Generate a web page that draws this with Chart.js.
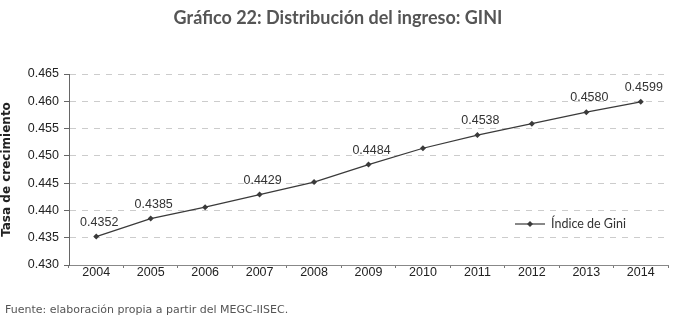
<!DOCTYPE html>
<html>
<head>
<meta charset="utf-8">
<script src="https://cdn.jsdelivr.net/npm/chart.js@4/dist/chart.umd.min.js"></script>
<style>
  html, body { margin: 0; padding: 0; background: #fff; }
  #wrap { position: relative; width: 673px; height: 321px; }
</style>
</head>
<body>
<div id="wrap"><canvas id="giniChart" width="673" height="321"></canvas></div>
<script>
    const years = ['2004', '2005', '2006', '2007', '2008', '2009', '2010', '2011', '2012', '2013', '2014'];
    const giniValues = [0.4352, 0.4385, 0.4406, 0.4429, 0.4452, 0.4484, 0.4514, 0.4538, 0.4559, 0.4580, 0.4599];
    // which points carry a value label in the original
    const labelledYears = ['2004', '2005', '2007', '2009', '2011', '2013', '2014'];
    const yTicks = [0.430, 0.435, 0.440, 0.445, 0.450, 0.455, 0.460, 0.465];

    const lineColor = '#3a3a3a';
    const gothic = '"Lato", "Noto Sans", sans-serif';
    const arial = '"Liberation Sans", Arial, sans-serif';

    // Title, value labels, inside legend and source note
    const decorPlugin = {
        id: 'decor',
        afterDraw(chart) {
            const ctx = chart.ctx;
            const area = chart.chartArea;
            const meta = chart.getDatasetMeta(0);
            ctx.save();

            ctx.fillStyle = '#555';
            ctx.font = 'bold 18px ' + gothic;
            ctx.textAlign = 'center';
            ctx.textBaseline = 'middle';
            ctx.fillText('Gráfico 22: Distribución del ingreso: GINI', 338, 18);

            ctx.fillStyle = '#333';
            ctx.font = '12.5px ' + arial;
            ctx.textBaseline = 'bottom';
            meta.data.forEach((pt, i) => {
                if (!labelledYears.includes(years[i])) return;
                ctx.fillText(giniValues[i].toFixed(4), pt.x + 3, pt.y - 8);
            });

            // legend inside plot area
            const ly = 224;
            const lx = area.right - 153;
            ctx.strokeStyle = lineColor;
            ctx.lineWidth = 1.2;
            ctx.beginPath();
            ctx.moveTo(lx, ly);
            ctx.lineTo(lx + 30, ly);
            ctx.stroke();
            ctx.fillStyle = lineColor;
            ctx.beginPath();
            ctx.moveTo(lx + 15, ly - 3);
            ctx.lineTo(lx + 18, ly);
            ctx.lineTo(lx + 15, ly + 3);
            ctx.lineTo(lx + 12, ly);
            ctx.closePath();
            ctx.fill();
            ctx.fillStyle = '#333';
            ctx.font = '12.5px ' + gothic;
            ctx.textAlign = 'left';
            ctx.textBaseline = 'middle';
            ctx.fillText('Índice de Gini', lx + 36, ly);

            ctx.fillStyle = '#555';
            ctx.font = '11px "DejaVu Sans", sans-serif';
            ctx.fillText('Fuente: elaboración propia a partir del MEGC-IISEC.', 5, 310);
            ctx.restore();
        }
    };

    new Chart(document.getElementById('giniChart'), {
        type: 'line',
        data: {
            labels: years,
            datasets: [{
                label: 'Índice de Gini',
                data: giniValues,
                borderColor: lineColor,
                backgroundColor: lineColor,
                borderWidth: 1.2,
                pointStyle: 'rectRot',
                pointRadius: 3,
                pointBorderWidth: 0,
                tension: 0
            }]
        },
        options: {
            responsive: false,
            animation: false,
            layout: { padding: { left: 0, right: 5, top: 74, bottom: 32 } },
            plugins: {
                legend: { display: false },
                title: { display: false },
                tooltip: { enabled: false }
            },
            scales: {
                x: {
                    offset: true,
                    afterFit(s) { s.height = 24; },
                    grid: {
                        display: true,
                        offset: true,
                        drawOnChartArea: false,
                        tickLength: 3,
                        tickColor: '#777'
                    },
                    border: { color: '#888', width: 1 },
                    ticks: {
                        color: '#222',
                        padding: -3,
                        font: { family: arial, size: 12.5 }
                    }
                },
                y: {
                    min: 0.430,
                    max: 0.465,
                    afterFit(s) { s.width = 69; },
                    afterBuildTicks(s) { s.ticks = yTicks.map(v => ({ value: v })); },
                    grid: {
                        color: '#cccccc',
                        tickColor: '#666',
                        tickLength: 5,
                        drawTicks: true
                    },
                    border: { color: '#666', width: 1, dash: [6, 6] },
                    ticks: {
                        color: '#222',
                        padding: 5,
                        callback: v => v.toFixed(3),
                        font: { family: arial, size: 12.5 }
                    },
                    title: {
                        display: true,
                        text: 'Tasa de crecimiento',
                        color: '#222',
                        padding: { top: 0, bottom: 2 },
                        font: { family: '"DejaVu Sans", sans-serif', size: 12, weight: 'bold' }
                    }
                }
            }
        },
        plugins: [decorPlugin]
    });
</script>
</body>
</html>
